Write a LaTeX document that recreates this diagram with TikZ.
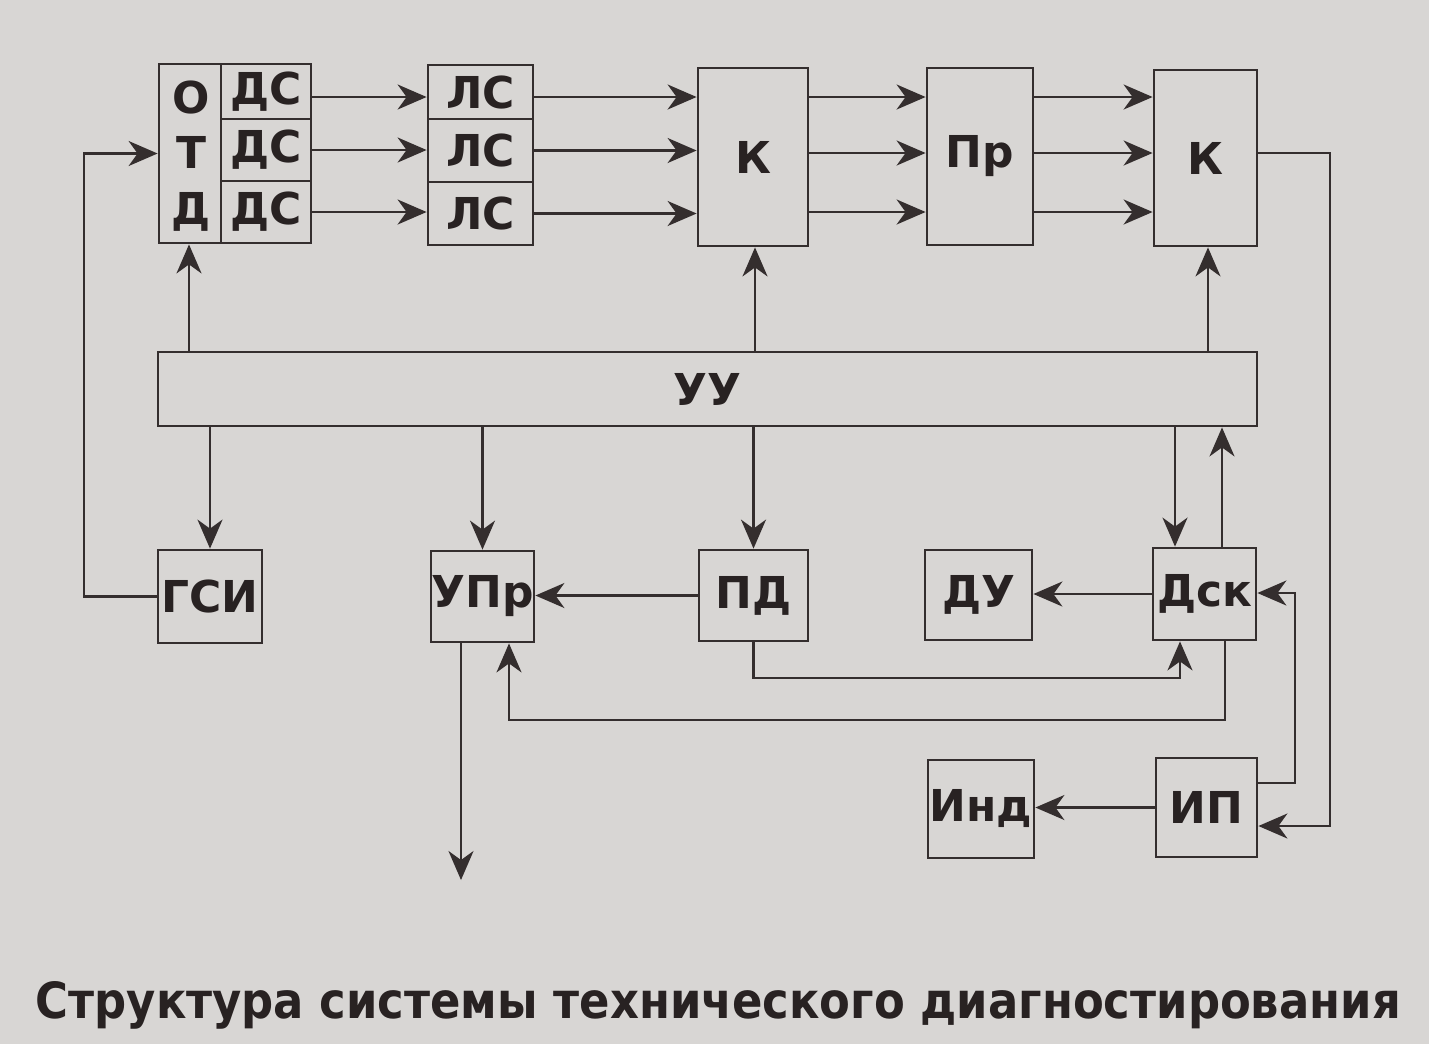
\documentclass[tikz,border=0pt]{standalone}
\usepackage{fontspec}
\setmainfont{DejaVu Sans}
\usetikzlibrary{arrows.meta,calc}
\definecolor{paper}{RGB}{216,214,212}
\definecolor{ink}{RGB}{52,46,46}
\definecolor{txt}{RGB}{40,34,34}
\tikzset{
  box/.style={draw=ink, line width=0.8pt, inner sep=0pt, text=txt, font=\fontsize{12.5}{14}\selectfont\bfseries},
  lbl/.style={inner sep=0pt, text=txt, font=\fontsize{12.5}{14}\selectfont\bfseries},
  arr/.style={draw=ink, line width=0.65pt, -{Stealth[length=0.29cm, width=0.25cm, inset=0.09cm]}},
  wire/.style={draw=ink, line width=0.65pt}
}
\begin{document}
\begin{tikzpicture}
\fill[paper] (0,0) rectangle (14.29,-10.44);
\useasboundingbox (0,0) rectangle (14.29,-10.44);

% top row
\node[box, minimum width=1.52cm, minimum height=1.79cm] (otd) at (2.35,-1.535) {};
\node[lbl] (o) at (1.91,-0.97) {О};
\node[lbl] (t) at (1.91,-1.52) {Т};
\node[lbl] (d) at (1.91,-2.12) {Д};
\node[box, minimum width=0.90cm, minimum height=0.55cm] (ds1) at (2.66,-0.915) {ДС};
\node[box, minimum width=0.90cm, minimum height=0.62cm] (ds2) at (2.66,-1.50) {ДС};
\node[box, minimum width=0.90cm, minimum height=0.62cm] (ds3) at (2.66,-2.12) {ДС};

\node[box, minimum width=1.05cm, minimum height=0.54cm] (ls1) at (4.805,-0.92) {ЛС};
\node[box, minimum width=1.05cm, minimum height=0.63cm] (ls2) at (4.805,-1.505) {ЛС};
\node[box, minimum width=1.05cm, minimum height=0.63cm] (ls3) at (4.805,-2.135) {ЛС};

\node[box, minimum width=1.10cm, minimum height=1.78cm] (k1) at (7.53,-1.57) {К};
\node[box, minimum width=1.06cm, minimum height=1.77cm] (pr) at (9.80,-1.565) {Пр};
\node[box, minimum width=1.03cm, minimum height=1.76cm] (k2) at (12.055,-1.58) {К};

\node[box, minimum width=10.99cm, minimum height=0.74cm] (uu) at (7.075,-3.89) {УУ};

% lower row
\node[box, minimum width=1.04cm, minimum height=0.93cm] (gsi) at (2.10,-5.965) {ГСИ};
\node[box, minimum width=1.03cm, minimum height=0.91cm] (upr) at (4.825,-5.965) {УПр};
\node[box, minimum width=1.09cm, minimum height=0.91cm] (pd) at (7.535,-5.955) {ПД};
\node[box, minimum width=1.07cm, minimum height=0.90cm] (du) at (9.785,-5.95) {ДУ};
\node[box, minimum width=1.03cm, minimum height=0.92cm] (dsk) at (12.045,-5.94) {Дск};
\node[box, minimum width=1.06cm, minimum height=0.98cm] (ind) at (9.81,-8.09) {Инд};
\node[box, minimum width=1.01cm, minimum height=0.99cm] (ip) at (12.065,-8.075) {ИП};

% helper coordinates
\coordinate (r1) at (0,-0.97);
\coordinate (r2) at (0,-1.53);
\coordinate (r3) at (0,-2.12);
\coordinate (xa) at (1.89,0);
\coordinate (xk1) at (7.55,0);
\coordinate (xk2) at (12.08,0);
\coordinate (xgl) at (0.84,0);
\coordinate (xdd) at (11.75,0);
\coordinate (xdu) at (12.22,0);
\coordinate (ypd) at (0,-6.78);
\coordinate (xpd) at (11.80,0);
\coordinate (ydl) at (0,-7.20);
\coordinate (xdl) at (12.25,0);
\coordinate (xul) at (5.09,0);
\coordinate (xuo) at (4.61,0);
\coordinate (out) at (4.61,-8.80);
\coordinate (yip1) at (0,-7.83);
\coordinate (yip2) at (0,-8.26);
\coordinate (xr1) at (12.95,0);
\coordinate (xr2) at (13.30,0);
\coordinate (ydk) at (0,-5.93);

% ДС -> ЛС
\draw[arr] (ds1.east |- r1) -- (ls1.west |- r1);
\draw[arr] (ds2.east) -- (ls2.west |- ds2.east);
\draw[arr] (ds3.east) -- (ls3.west |- ds3.east);
% ЛС -> К
\draw[arr] (ls1.east |- r1) -- (k1.west |- r1);
\draw[arr] (ls2.east) -- (k1.west |- ls2.east);
\draw[arr] (ls3.east) -- (k1.west |- ls3.east);
% К -> Пр
\draw[arr] (k1.east |- r1) -- (pr.west |- r1);
\draw[arr] (k1.east |- r2) -- (pr.west |- r2);
\draw[arr] (k1.east |- r3) -- (pr.west |- r3);
% Пр -> К
\draw[arr] (pr.east |- r1) -- (k2.west |- r1);
\draw[arr] (pr.east |- r2) -- (k2.west |- r2);
\draw[arr] (pr.east |- r3) -- (k2.west |- r3);

% УУ up
\draw[arr] (uu.north -| xa) -- (otd.south -| xa);
\draw[arr] (uu.north -| xk1) -- (k1.south -| xk1);
\draw[arr] (uu.north -| xk2) -- (k2.south -| xk2);

% УУ down
\draw[arr] (uu.south -| gsi.north) -- (gsi.north);
\draw[arr] (uu.south -| upr.north) -- (upr.north);
\draw[arr] (uu.south -| pd.north) -- (pd.north);
\draw[arr] (uu.south -| xdd) -- (dsk.north -| xdd);
\draw[arr] (dsk.north -| xdu) -- (uu.south -| xdu);

% ГСИ feedback
\draw[arr] (gsi.west) -| (xgl |- otd.west) -- (otd.west);

% horizontal links
\draw[arr] (pd.west) -- (upr.east |- pd.west);
\draw[arr] (dsk.west) -- (du.east |- dsk.west);
\draw[arr] (ip.west) -- (ind.east |- ip.west);

% ПД -> Дск
\draw[arr] (pd.south) |- (xpd |- ypd) -- (dsk.south -| xpd);
% Дск -> УПр
\draw[arr] (dsk.south -| xdl) |- (xul |- ydl) -- (upr.south -| xul);
% УПр output
\draw[arr] (upr.south -| xuo) -- (out);
% ИП -> Дск
\draw[arr] (ip.east |- yip1) -| (xr1 |- ydk) -- (dsk.east |- ydk);
% К -> ИП
\draw[arr] (k2.east |- r2) -| (xr2 |- yip2) -- (ip.east |- yip2);

% title
\node[anchor=base west, inner sep=0pt, text=txt] (title) at (0.35,-10.18)
  {\resizebox{13.65cm}{0.37cm}{\bfseries Структура системы технического диагностирования}};
\end{tikzpicture}
\end{document}
